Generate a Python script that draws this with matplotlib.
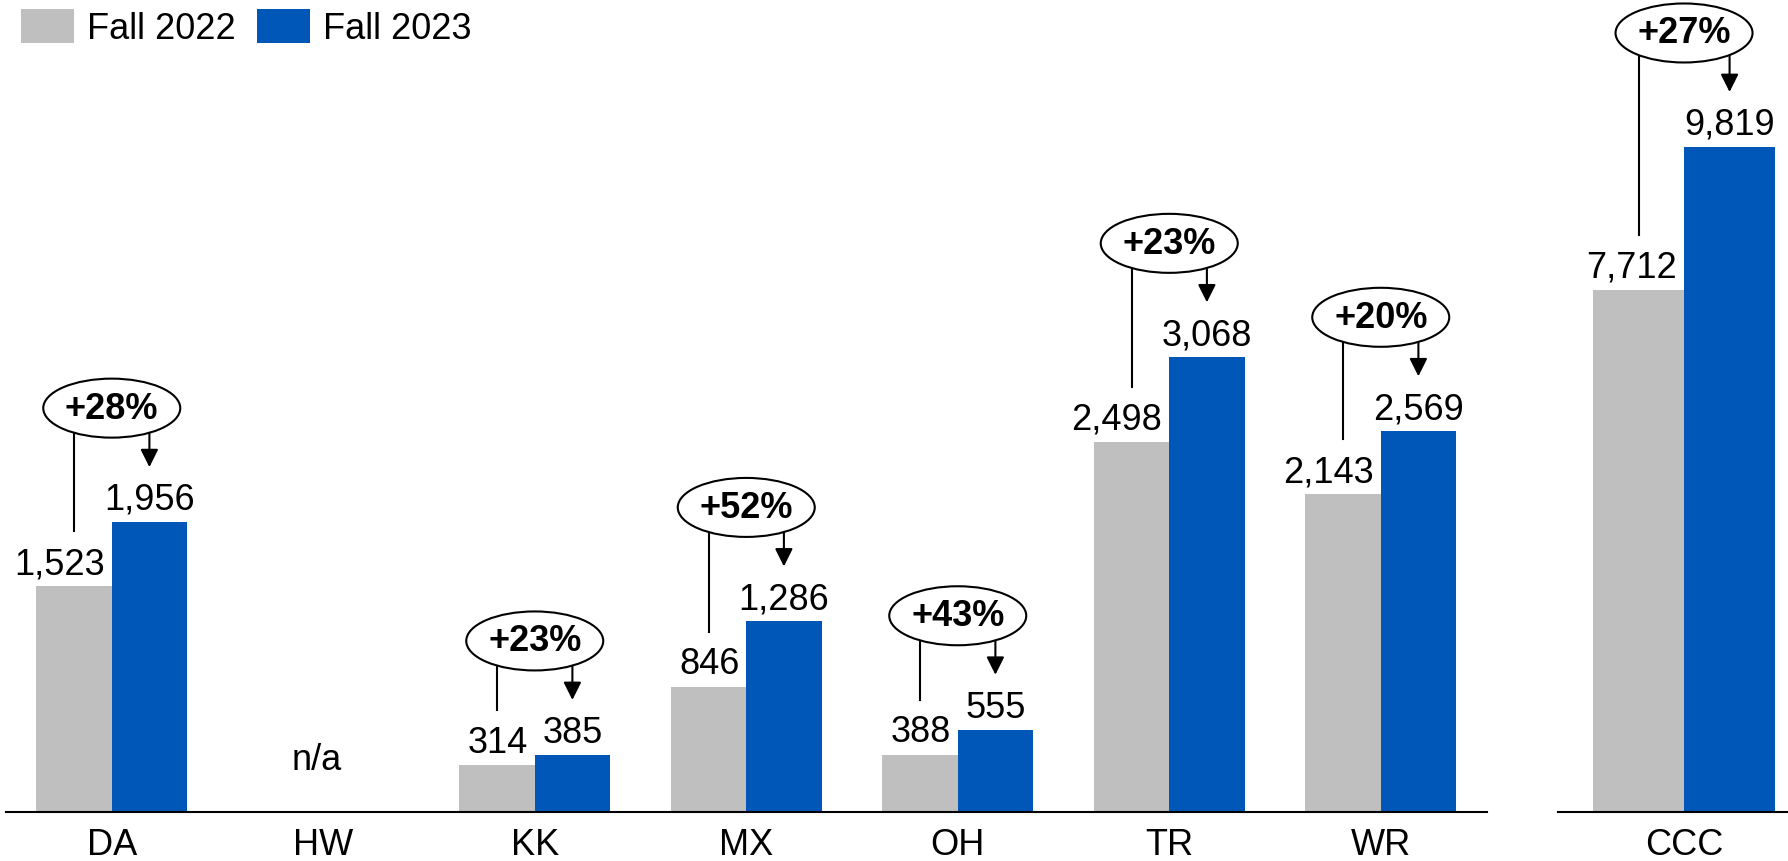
import numpy as np
import matplotlib.pyplot as plt
from matplotlib.patches import Ellipse

plt.rcParams['font.family'] = ['Liberation Sans', 'DejaVu Sans']

# данные
campuses = ['DA', 'HW', 'KK', 'MX', 'OH', 'TR', 'WR']
fall_2022 = [1523, None, 314, 846, 388, 2498, 2143]
fall_2023 = [1956, None, 385, 1286, 555, 3068, 2569]
total_name = 'CCC'
total_2022 = 7712
total_2023 = 9819

GRAY = '#BFBFBF'
BLUE = '#0057B8'
FS = 26


def label_bars(ax, x, vals, bw, align):
    # серые подписи прижаты к правому краю столбца, синие по центру
    for xi, v in zip(x, vals):
        if v is None:
            continue
        if align == 'right':
            ax.annotate(f'{v:,}', (xi + bw / 2, v), xytext=(-5, 9.5), textcoords='offset points',
                        ha='right', va='baseline', fontsize=FS)
        else:
            ax.annotate(f'{v:,}', (xi, v), xytext=(0, 9.5), textcoords='offset points',
                        ha='center', va='baseline', fontsize=FS)


def change_bubble(ax, xg, xb, vg, vb, ppx, ppu):
    # овал с процентом над парой столбцов, размеры в пикселях
    a_px, b_px = 68.5, 29.5
    cx = (xg + xb) / 2
    cy = vb + 114 / ppu
    ax.add_patch(Ellipse((cx, cy), 2 * a_px / ppx, 2 * b_px / ppu,
                         facecolor='white', edgecolor='black', lw=1.5, zorder=4))
    pct = round((vb - vg) / vg * 100)
    ax.text(cx, cy, f'+{pct}%', ha='center', va='center', fontsize=26,
            fontweight='bold', zorder=5)

    def edge_y(x):
        dx = (x - cx) * ppx / a_px
        return cy - b_px * np.sqrt(max(0.0, 1 - dx ** 2)) / ppu

    ax.plot([xg, xg], [vg + 55 / ppu, edge_y(xg)], color='black', lw=1.5, zorder=3)
    ax.annotate('', xy=(xb, vb + 55 / ppu), xytext=(xb, edge_y(xb)),
                arrowprops=dict(arrowstyle='-|>,head_length=0.6,head_width=0.3',
                                mutation_scale=18, color='black', lw=1.5,
                                shrinkA=0, shrinkB=0), zorder=3)


def style_axis(ax):
    for s in ['top', 'right', 'left']:
        ax.spines[s].set_visible(False)
    ax.spines['bottom'].set_linewidth(1.5)
    ax.set_yticks([])
    ax.tick_params(axis='x', length=0, pad=11, labelsize=FS)


fig = plt.figure(figsize=(17.88, 8.62), dpi=100)
W, H = 1788, 862
axis_y = 813

ax1 = fig.add_axes([6 / W, (H - axis_y) / H, 1480.5 / W, axis_y / H])
ax2 = fig.add_axes([1558 / W, (H - axis_y) / H, 230 / W, axis_y / H])

# левая панель
bw = 0.356
x = np.arange(len(campuses))
g_vals = [v if v is not None else 0 for v in fall_2022]
b_vals = [v if v is not None else 0 for v in fall_2023]
bars_g = ax1.bar(x - bw / 2, g_vals, bw, color=GRAY, label='Fall 2022')
bars_b = ax1.bar(x + bw / 2, b_vals, bw, color=BLUE, label='Fall 2023')
ax1.set_xlim(-0.5, len(campuses) - 0.5)
ax1.set_ylim(0, 5486)
ax1.set_xticks(x)
ax1.set_xticklabels(campuses)
style_axis(ax1)

ppx1 = ax1.bbox.width / len(campuses)
ppu1 = ax1.bbox.height / 5486
label_bars(ax1, x - bw / 2, fall_2022, bw, 'right')
label_bars(ax1, x + bw / 2, fall_2023, bw, 'center')
for i in range(len(campuses)):
    if fall_2022[i] is None:
        ax1.annotate('n/a', (x[i], 0), xytext=(-5, 38), textcoords='offset points',
                     ha='center', va='center', fontsize=FS)
        continue
    change_bubble(ax1, x[i] - bw / 2, x[i] + bw / 2, fall_2022[i], fall_2023[i], ppx1, ppu1)

# правая панель (итого)
bw2 = 0.396
ax2.bar([-bw2 / 2], [total_2022], bw2, color=GRAY)
ax2.bar([bw2 / 2], [total_2023], bw2, color=BLUE)
ax2.set_xlim(-0.548, 0.452)
ax2.set_ylim(0, 12004)
ax2.set_xticks([0])
ax2.set_xticklabels([total_name])
style_axis(ax2)

ppx2 = ax2.bbox.width / 1.0
ppu2 = ax2.bbox.height / 12004
label_bars(ax2, [-bw2 / 2], [total_2022], bw2, 'right')
label_bars(ax2, [bw2 / 2], [total_2023], bw2, 'center')
change_bubble(ax2, -bw2 / 2, bw2 / 2, total_2022, total_2023, ppx2, ppu2)

fig.legend(handles=[bars_g, bars_b], loc='upper left', bbox_to_anchor=(21 / W, 1 - 10 / H),
           ncol=2, frameon=False, fontsize=FS, handlelength=1.47, handleheight=1.08,
           handletextpad=0.36, columnspacing=0.58, borderpad=0, borderaxespad=0)

fig.savefig('out.png', dpi=100)
